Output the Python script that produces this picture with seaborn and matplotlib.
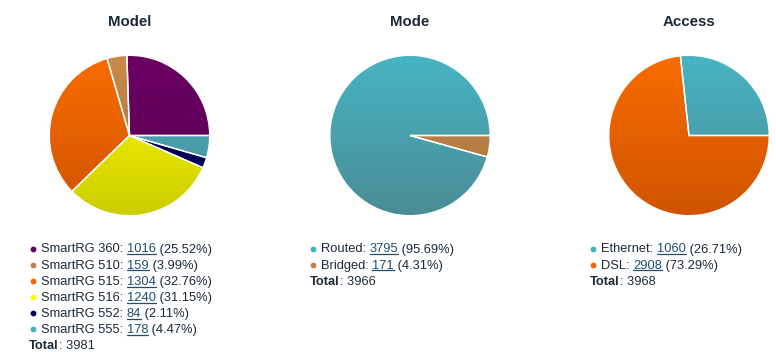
import numpy as np
import matplotlib
matplotlib.use("Agg")
import matplotlib.pyplot as plt
import seaborn as sns
from matplotlib.colors import LinearSegmentedColormap

# data
model_labels = ["SmartRG 360", "SmartRG 510", "SmartRG 515", "SmartRG 516", "SmartRG 552", "SmartRG 555"]
model_counts = [1016, 159, 1304, 1240, 84, 178]
model_top = ["#6c0064", "#c98a4c", "#f96c00", "#ffff00", "#000066", "#47b4c3"]
model_bottom = ["#55004d", "#a8743f", "#cf5400", "#cccc00", "#00004d", "#4a8c95"]

mode_labels = ["Routed", "Bridged"]
mode_counts = [3795, 171]
mode_top = ["#47b4c3", "#c98a4c"]
mode_bottom = ["#4a8c95", "#a8743f"]

access_labels = ["Ethernet", "DSL"]
access_counts = [1060, 2908]
access_top = ["#47b4c3", "#f96c00"]
access_bottom = ["#4a8c95", "#cf5400"]

bullet_model = ["#640060", "#c0824a", "#f56a00", "#ffff00", "#000060", "#45b0be"]
bullet_mode = ["#45b0be", "#c0824a"]
bullet_access = ["#45b0be", "#f56a00"]

sns.set_theme(style="white")
plt.rcParams["font.family"] = ["Liberation Sans", "DejaVu Sans"]

W, H = 776, 352
fig = plt.figure(figsize=(W / 100, H / 100), dpi=100)
TXT = "#1c2a38"
LINK = "#1f4e6e"


def fx(x):
    return x / W


def fy(y):
    return 1 - y / H


def draw_pie(cx, cy, r, counts, tops, bottoms, title):
    ax = fig.add_axes([fx(cx - r), fy(cy + r), 2 * r / W, 2 * r / H])
    wedges, _ = ax.pie(counts, startangle=0, counterclock=True, radius=1,
                       wedgeprops=dict(edgecolor="white", linewidth=1.0))
    grad = np.linspace(0, 1, 256).reshape(-1, 1)
    for w, top, bot in zip(wedges, tops, bottoms):
        cmap = LinearSegmentedColormap.from_list("g", [bot, top])
        im = ax.imshow(grad, cmap=cmap, extent=(-1, 1, -1, 1), origin="lower",
                       aspect="auto", zorder=0.5)
        im.set_clip_path(w)
        w.set_facecolor("none")
    ax.set_xlim(-1.01, 1.01)
    ax.set_ylim(-1.01, 1.01)
    ax.set_aspect("equal")
    ax.axis("off")
    fig.text(fx(cx), fy(21.5), title, ha="center", va="center",
             fontsize=10.8, fontweight="bold", color=TXT)


renderer = fig.canvas.get_renderer()


def draw_legend(x_bullet, x_text, x_total, y0, labels, counts, colors):
    total = sum(counts)
    step = 16.1
    for i, (lab, n, c) in enumerate(zip(labels, counts, colors)):
        y = y0 + i * step
        fig.add_artist(plt.Line2D([fx(x_bullet)], [fy(y - 4)], marker="o",
                                  markersize=4.2, markeredgewidth=0, color=c))
        t1 = fig.text(fx(x_text), fy(y), f"{lab}: ", ha="left", va="baseline",
                      fontsize=9.3, color=TXT)
        x = x_text + t1.get_window_extent(renderer).width
        t2 = fig.text(fx(x), fy(y), f"{n}", ha="left", va="baseline",
                      fontsize=9.3, color=LINK)
        w2 = t2.get_window_extent(renderer).width
        fig.add_artist(plt.Line2D([fx(x), fx(x + w2)], [fy(y + 1.8), fy(y + 1.8)],
                                  color=LINK, linewidth=0.9))
        fig.text(fx(x + w2), fy(y), f" ({n / total * 100:.2f}%)", ha="left",
                 va="baseline", fontsize=9.3, color=TXT)
    y = y0 + len(labels) * step
    t = fig.text(fx(x_total), fy(y), "Total", ha="left", va="baseline",
                 fontsize=9.3, fontweight="bold", color=TXT)
    x = x_total + t.get_window_extent(renderer).width
    fig.text(fx(x), fy(y), f": {total}", ha="left", va="baseline",
             fontsize=9.3, color=TXT)


draw_pie(129.5, 135.5, 81, model_counts, model_top, model_bottom, "Model")
draw_pie(410, 135.5, 81, mode_counts, mode_top, mode_bottom, "Mode")
draw_pie(689, 135.5, 81, access_counts, access_top, access_bottom, "Access")

draw_legend(33, 41, 29, 252.5, model_labels, model_counts, bullet_model)
draw_legend(313, 321, 310, 252.5, mode_labels, mode_counts, bullet_mode)
draw_legend(593, 601, 590, 252.5, access_labels, access_counts, bullet_access)

fig.savefig("out.png", dpi=100, facecolor="white")
